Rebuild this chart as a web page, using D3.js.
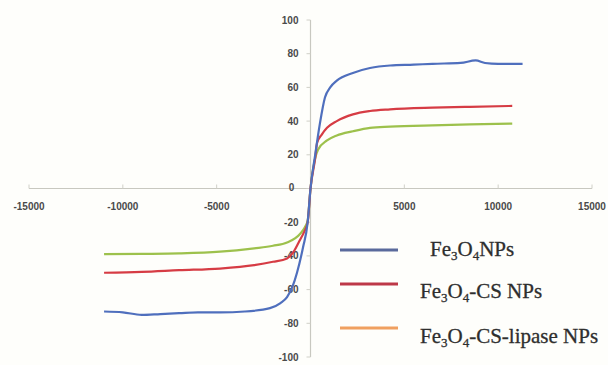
<!DOCTYPE html>
<html>
<head>
<meta charset="utf-8">
<script src="https://cdn.jsdelivr.net/npm/d3@7"></script>
<style>
  body { margin: 0; background: #fefefb; }
  svg { display: block; }
</style>
</head>
<body>
<div id="chart"></div>
<script>
// field (Oe) vs magnetization (emu/g)
const fe3o4 = [
  [-11000, -73], [-10000, -73.5], [-9000, -75], [-8000, -74.5], [-7000, -74],
  [-6000, -73.5], [-4820, -73.5], [-3500, -73], [-2160, -71], [-1600, -68],
  [-1250, -64.5], [-950, -58], [-720, -50], [-400, -35], [-150, -20],
  [0, 0], [250, 20], [500, 38.5], [770, 54], [1050, 60], [1400, 64],
  [2260, 68.6], [3170, 71.5], [4240, 73], [5500, 73.5], [6500, 74],
  [8000, 74.5], [8800, 76], [9300, 74.5], [10000, 74], [11300, 74]
]
const fe3o4Cs = [
  [-11000, -50], [-9000, -49.5], [-7000, -48.5], [-4820, -47.5], [-3000, -45.5],
  [-2000, -43.5], [-1250, -41.5], [-900, -37.5], [-585, -31], [-350, -26],
  [-150, -20], [0, 0], [250, 18], [350, 27], [600, 32], [880, 36],
  [1400, 40], [2260, 44], [3170, 46], [4240, 47], [6500, 48],
  [8500, 48.5], [10750, 49]
]
const fe3o4CsLipase = [
  [-11000, -39], [-9000, -38.8], [-7000, -38.5], [-4820, -37.5], [-3000, -35.5],
  [-2000, -34], [-1250, -32], [-560, -27], [-300, -23], [-150, -19],
  [0, 0], [250, 18], [400, 23], [880, 28.5], [1400, 31.5], [2260, 34],
  [3170, 36], [4240, 36.7], [6500, 37.5], [8500, 38], [10750, 38.5]
]
const xTicks = [-15000, -10000, -5000, 0, 5000, 10000, 15000]
const yTicks = [-100, -80, -60, -40, -20, 0, 20, 40, 60, 80, 100]
const lineColors = ['#4f6fbd', '#d63c44', '#9dc14c']
const legendColors = ['#5a6a9c', '#bd3848', '#f0a060']

const width = 608, height = 365

const svg = d3.select('#chart').append('svg')
    .attr('width', width).attr('height', height)

const x = d3.scaleLinear().domain([-15000, 15000]).range([29, 592])
const y = d3.scaleLinear().domain([-100, 100]).range([357, 20])

const tickFont = (sel) => sel
    .attr('font-family', 'Liberation Sans, Arial, sans-serif')
    .attr('font-size', 10).attr('font-weight', 'bold')
    .attr('fill', '#4a4a4a')

// horizontal axis through zero
const xAxis = svg.append('g').attr('transform', `translate(0,${y(0)})`)
xAxis.append('line')
    .attr('x1', x(-15000)).attr('x2', x(15000))
    .attr('stroke', '#c8c8c0').attr('stroke-width', 1.2)
xAxis.selectAll('line.tick').data(xTicks).enter().append('line')
    .attr('class', 'tick')
    .attr('x1', (d) => x(d)).attr('x2', (d) => x(d))
    .attr('y1', -4).attr('y2', 0)
    .attr('stroke', '#d0d0c8')
xAxis.selectAll('text').data(xTicks.filter((d) => d !== 0)).enter().append('text')
    .attr('x', (d) => x(d)).attr('y', 21)
    .attr('text-anchor', 'middle')
    .call(tickFont)
    .text((d) => d)
xAxis.append('text')
    .attr('x', x(0) - 19).attr('y', 2)
    .attr('text-anchor', 'middle')
    .call(tickFont)
    .text('0')

// vertical axis through zero
const yAxis = svg.append('g').attr('transform', `translate(${x(0)},0)`)
yAxis.append('line')
    .attr('y1', y(100)).attr('y2', y(-100))
    .attr('stroke', '#c8c8c0').attr('stroke-width', 1.2)
yAxis.selectAll('line.tick').data(yTicks).enter().append('line')
    .attr('class', 'tick')
    .attr('x1', -4).attr('x2', 0)
    .attr('y1', (d) => y(d)).attr('y2', (d) => y(d))
    .attr('stroke', '#d0d0c8')
yAxis.selectAll('text').data(yTicks.filter((d) => d !== 0)).enter().append('text')
    .attr('x', -12).attr('y', (d) => y(d) + 3.5)
    .attr('text-anchor', 'end')
    .call(tickFont)
    .text((d) => d)

const line = d3.line()
    .x((d) => x(d[0]))
    .y((d) => y(d[1]))
    .curve(d3.curveMonotoneX)

// green first so blue sits on top, as in the picture
const series = [fe3o4CsLipase, fe3o4Cs, fe3o4]
const seriesColors = [lineColors[2], lineColors[1], lineColors[0]]
svg.selectAll('path.curve').data(series).enter().append('path')
    .attr('class', 'curve')
    .attr('d', line)
    .attr('fill', 'none')
    .attr('stroke', (d, i) => seriesColors[i])
    .attr('stroke-width', 2.2)
    .attr('stroke-linejoin', 'round')

// legend
const legendY = [250, 284, 328]
const textX = [430, 420, 420]
const textY = [256, 298, 343]
const legend = svg.append('g')
legend.selectAll('line').data(legendColors).enter().append('line')
    .attr('x1', 340).attr('x2', 398)
    .attr('y1', (d, i) => legendY[i]).attr('y2', (d, i) => legendY[i])
    .attr('stroke', (d) => d)
    .attr('stroke-width', 3.2)

// write Fe3O4 with subscripts
const labelParts = [
  ['Fe', '3', 'O', '4', 'NPs'],
  ['Fe', '3', 'O', '4', '-CS NPs'],
  ['Fe', '3', 'O', '4', '-CS-lipase NPs'],
]
labelParts.forEach((parts, i) => {
  const t = legend.append('text')
      .attr('x', textX[i]).attr('y', textY[i])
      .attr('font-family', 'Liberation Serif, Times New Roman, serif')
      .attr('font-size', 21)
      .attr('fill', '#2e2e2e')
      .attr('stroke', '#2e2e2e').attr('stroke-width', 0.3)
  parts.forEach((p, j) => {
    const sub = j % 2 === 1
    t.append('tspan')
        .attr('font-size', sub ? 13 : 21)
        .attr('dy', sub ? 4 : (j === 0 ? 0 : -4))
        .text(p)
  })
})
</script>
</body>
</html>
